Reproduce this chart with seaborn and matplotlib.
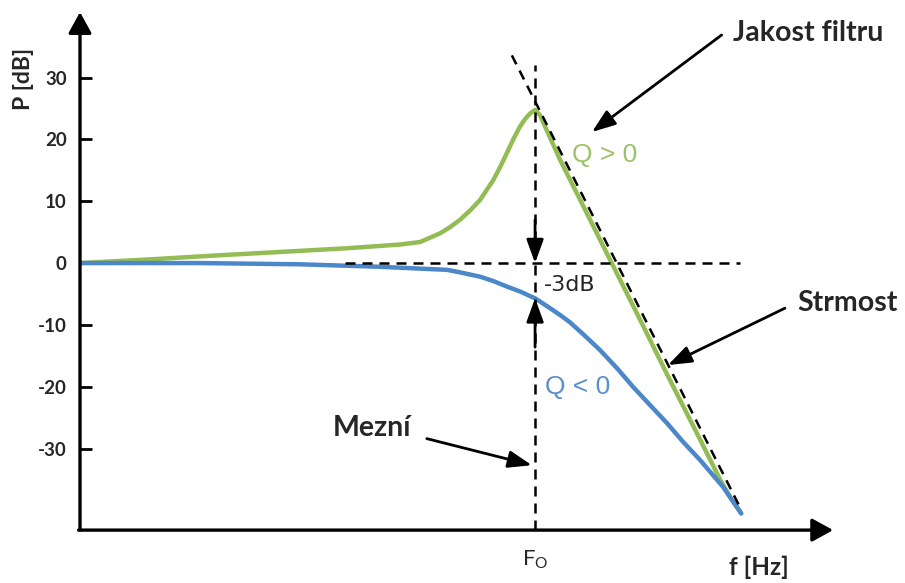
import matplotlib
matplotlib.use("Agg")
import matplotlib.pyplot as plt
import pandas as pd
import seaborn as sns

# frequency normalised to the cut-off frequency F0 (f / F0), level in dB
f_high_q = [0.000, 0.154, 0.292, 0.440, 0.587, 0.703, 0.747, 0.791, 0.813, 0.835,
            0.857, 0.879, 0.908, 0.923, 0.938, 0.952, 0.967, 0.978, 0.989, 1.000,
            1.011, 1.055, 1.121, 1.167, 1.231, 1.290, 1.363, 1.407, 1.429, 1.453]
p_high_q = [0.0, 0.6, 1.2, 1.8, 2.4, 3.0, 3.4, 4.8, 5.8, 7.0,
            8.5, 10.2, 13.4, 15.5, 17.8, 20.0, 22.1, 23.3, 24.2, 24.8,
            23.9, 16.7, 7.0, 0.2, -9.2, -18.0, -28.6, -35.1, -37.9, -40.5]

f_low_q = [0.000, 0.264, 0.484, 0.659, 0.807, 0.835, 0.879, 0.908, 0.938, 0.967,
           1.000, 1.033, 1.055, 1.077, 1.110, 1.143, 1.180, 1.215, 1.253, 1.290,
           1.325, 1.363, 1.413, 1.453]
p_low_q = [0.0, 0.0, -0.2, -0.6, -1.1, -1.5, -2.2, -2.9, -3.8, -4.6,
           -5.7, -7.3, -8.4, -9.6, -11.8, -14.1, -17.0, -20.0, -23.0, -25.9,
           -28.9, -31.9, -36.2, -40.5]

# asymptote of the roll-off slope
slope_f = [0.949, 1.453]
slope_p = [33.6, -39.9]

F0 = 1.0
p_ref = 0.0
p_cut = -5.7
y_ticks = [-30, -20, -10, 0, 10, 20, 30]

GREEN = "#93BC55"
BLUE = "#4C87C9"

sns.set_theme(style="white")
plt.rcParams["font.family"] = ["Lato", "DejaVu Sans"]

fig = plt.figure(figsize=(9.05, 5.83), dpi=100)
ax = fig.add_axes([0.0884, 0.07376, 0.88398, 0.91767])
ax.set_xlim(0, 1.758)
ax.set_ylim(-44.8, 41.75)
for s in ax.spines.values():
    s.set_visible(False)

y_floor = -43.2

df_hi = pd.DataFrame({"f": f_high_q, "P": p_high_q})
df_lo = pd.DataFrame({"f": f_low_q, "P": p_low_q})
sns.lineplot(data=df_hi, x="f", y="P", ax=ax, color=GREEN, lw=3.2, sort=False,
             solid_capstyle="round", solid_joinstyle="round", zorder=3)
sns.lineplot(data=df_lo, x="f", y="P", ax=ax, color=BLUE, lw=3.2, sort=False,
             solid_capstyle="round", solid_joinstyle="round", zorder=3)

dash = dict(color="black", lw=1.8, dashes=(4, 2.8), zorder=4)
ax.plot(slope_f, slope_p, **dash)
ax.plot([F0, F0], [y_floor, 32.0], **dash)
ax.plot([0.582, 1.45], [p_ref, p_ref], **dash)

# axes with arrow heads
axis_arrow = dict(arrowstyle="-|>,head_length=0.4,head_width=0.22", mutation_scale=32,
                  lw=2.4, color="black", shrinkA=0, shrinkB=0)
ax.annotate("", xy=(0, 40.6), xytext=(0, y_floor), arrowprops=axis_arrow,
            annotation_clip=False, zorder=5)
ax.annotate("", xy=(1.655, y_floor), xytext=(-0.003, y_floor), arrowprops=axis_arrow,
            annotation_clip=False, zorder=5)

ax.set_yticks(y_ticks)
ax.set_yticklabels([str(v) for v in y_ticks], fontsize=13.5, fontweight="bold")
ax.tick_params(axis="y", direction="in", length=8.6, width=2.0, color="black",
               pad=9.5, left=True)
ax.set_xticks([F0])
ax.set_xticklabels(["F$_\\mathregular{O}$"], fontsize=16)
ax.tick_params(axis="x", length=0, pad=6)
ax.set_xlabel("")
ax.set_ylabel("")

ax.text(-0.125, 29.8, "P [dB]", rotation=90, ha="center", va="center",
        fontsize=16.5, fontweight="bold")
ax.text(1.426, -49.2, "f [Hz]", ha="left", va="center", fontsize=17.5,
        fontweight="bold", clip_on=False)

# -3 dB markers at the cut-off frequency
small_arrow = dict(arrowstyle="-|>,head_length=0.55,head_width=0.2", mutation_scale=26,
                   lw=2.0, color="black", shrinkA=0, shrinkB=0)
ax.annotate("", xy=(F0, p_ref), xytext=(F0, 7.0), arrowprops=small_arrow, zorder=6)
ax.annotate("", xy=(F0, p_cut), xytext=(F0, -13.6), arrowprops=small_arrow, zorder=6)
ax.text(1.020, -3.6, "-3dB", ha="left", va="center", fontsize=16,
        family=["DejaVu Sans"])

ax.text(1.081, 17.5, "Q > 0", ha="left", va="center", fontsize=19, color="#9DC266",
        family=["Liberation Sans", "DejaVu Sans"])
ax.text(1.022, -20.0, "Q < 0", ha="left", va="center", fontsize=19, color="#5B8FCB",
        family=["Liberation Sans", "DejaVu Sans"])

# callouts
ax.text(1.435, 37.2, "Jakost filtru", ha="left", va="center", fontsize=20.5,
        fontweight="bold", clip_on=False)
ax.annotate("", xy=(1.125, 21.2), xytext=(1.410, 36.9), arrowprops=small_arrow, zorder=6)
ax.text(1.576, -6.5, "Strmost", ha="left", va="center", fontsize=20.5,
        fontweight="bold", clip_on=False)
ax.annotate("", xy=(1.292, -16.5), xytext=(1.549, -7.3), arrowprops=small_arrow, zorder=6)
ax.text(0.556, -26.7, "Mezní", ha="left", va="center", fontsize=20.5,
        fontweight="bold")
ax.annotate("", xy=(0.993, -32.7), xytext=(0.762, -28.4), arrowprops=small_arrow, zorder=6)

fig.savefig("out.png", dpi=100)
